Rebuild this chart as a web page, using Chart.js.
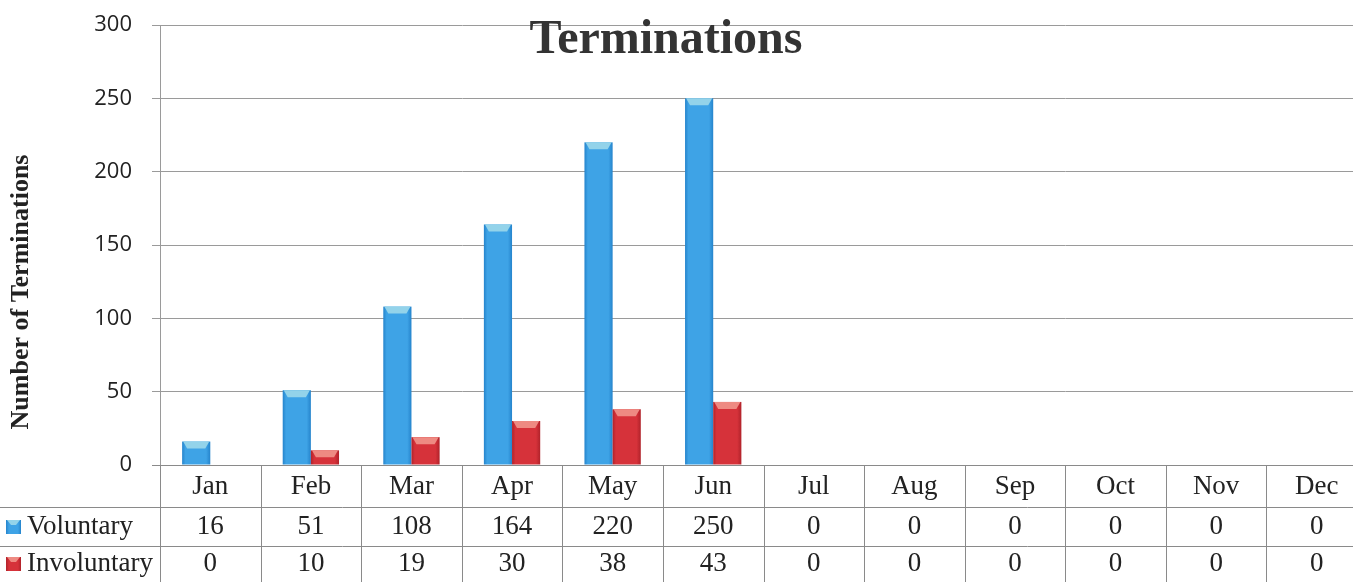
<!DOCTYPE html>
<html lang="en">
<head>
    <meta charset="UTF-8">
    <title>Terminations</title>
    <script src="https://cdn.jsdelivr.net/npm/chart.js"></script>
    <style>
        html, body { margin: 0; padding: 0; background: #fff; overflow: hidden; }
        .wrap { width: 1370px; height: 582px; }
    </style>
</head>
<body>
    <div class="wrap">
        <canvas id="termChart" width="1370" height="582"></canvas>
    </div>

    <script>
        // Dados
        const months = ['Jan', 'Feb', 'Mar', 'Apr', 'May', 'Jun', 'Jul', 'Aug', 'Sep', 'Oct', 'Nov', 'Dec'];
        const voluntary = [16, 51, 108, 164, 220, 250, 0, 0, 0, 0, 0, 0];
        const involuntary = [0, 10, 19, 30, 38, 43, 0, 0, 0, 0, 0, 0];
        const yTicks = [0, 50, 100, 150, 200, 250, 300];

        const serif = '"Liberation Serif", "DejaVu Serif", serif';
        const sans = '"Open Sans", "DejaVu Sans", sans-serif';
        const lineGrey = '#9a9a9a';

        const seriesStyle = [
            { name: 'Voluntary', dark: '#2584cc', mid: '#3ea3e6', cap: '#93d3ea' },
            { name: 'Involuntary', dark: '#b0222a', mid: '#d6323a', cap: '#ee8a82' }
        ];

        // barras com efeito 3D (gradiente + tampa clara)
        const barShading = {
            id: 'barShading',
            afterDatasetsDraw(chart) {
                const ctx = chart.ctx;
                chart.data.datasets.forEach((ds, di) => {
                    const st = seriesStyle[di];
                    chart.getDatasetMeta(di).data.forEach((bar, i) => {
                        if (!ds.data[i]) return;
                        const { x, y, base, width } = bar.getProps(['x', 'y', 'base', 'width'], true);
                        const l = x - width / 2, r = x + width / 2;
                        const g = ctx.createLinearGradient(l, 0, r, 0);
                        g.addColorStop(0, st.dark);
                        g.addColorStop(0.12, st.mid);
                        g.addColorStop(0.85, st.mid);
                        g.addColorStop(1, st.dark);
                        ctx.save();
                        ctx.fillStyle = g;
                        ctx.fillRect(l, y, width, base - y);
                        const h = Math.min(7, base - y);
                        ctx.fillStyle = st.cap;
                        ctx.beginPath();
                        ctx.moveTo(l + 1, y);
                        ctx.lineTo(r - 1, y);
                        ctx.lineTo(r - 5, y + h);
                        ctx.lineTo(l + 5, y + h);
                        ctx.closePath();
                        ctx.fill();
                        ctx.restore();
                    });
                });
            }
        };

        // título, título do eixo y e tabela de dados
        const extras = {
            id: 'extras',
            afterDraw(chart) {
                const ctx = chart.ctx;
                const xs = chart.scales.x;
                const area = chart.chartArea;
                const bottom = chart.height;
                const colW = (area.right - area.left) / months.length;
                const rowTop = [area.bottom, 507, 546];
                const rowMid = [487, 527, 564];

                ctx.save();
                // título
                ctx.fillStyle = '#333';
                ctx.font = 'bold 48px ' + serif;
                ctx.textAlign = 'center';
                ctx.textBaseline = 'alphabetic';
                ctx.fillText('Terminations', 666, 53);

                // eixo y
                ctx.save();
                ctx.translate(21, 292);
                ctx.rotate(-Math.PI / 2);
                ctx.font = 'bold 26px ' + serif;
                ctx.fillStyle = '#222';
                ctx.textBaseline = 'middle';
                ctx.fillText('Number of Terminations', 0, 0);
                ctx.restore();

                // linhas da tabela
                ctx.strokeStyle = '#8a8a8a';
                ctx.lineWidth = 1;
                ctx.beginPath();
                ctx.moveTo(area.left - 8, rowTop[0] + 0.5);
                ctx.lineTo(chart.width, rowTop[0] + 0.5);
                for (let k = 1; k < rowTop.length; k++) {
                    ctx.moveTo(0, rowTop[k] + 0.5);
                    ctx.lineTo(chart.width, rowTop[k] + 0.5);
                }
                for (let i = 0; i <= months.length; i++) {
                    const vx = Math.round(xs.getPixelForValue(i) - colW / 2) + 0.5;
                    ctx.moveTo(vx, rowTop[0]);
                    ctx.lineTo(vx, bottom);
                }
                ctx.stroke();

                // textos da tabela
                ctx.fillStyle = '#222';
                ctx.font = '27px ' + serif;
                ctx.textAlign = 'center';
                ctx.textBaseline = 'middle';
                months.forEach((m, i) => {
                    const cx = xs.getPixelForValue(i);
                    ctx.fillText(m, cx, rowMid[0]);
                    ctx.fillText(String(voluntary[i]), cx, rowMid[1]);
                    ctx.fillText(String(involuntary[i]), cx, rowMid[2]);
                });

                // legenda na tabela
                ctx.textAlign = 'left';
                seriesStyle.forEach((st, k) => {
                    const sy = rowMid[k + 1] - 7;
                    const g = ctx.createLinearGradient(6, 0, 21, 0);
                    g.addColorStop(0, st.dark);
                    g.addColorStop(0.2, st.mid);
                    g.addColorStop(0.8, st.mid);
                    g.addColorStop(1, st.dark);
                    ctx.fillStyle = g;
                    ctx.fillRect(6, sy, 15, 14);
                    ctx.fillStyle = st.cap;
                    ctx.beginPath();
                    ctx.moveTo(7, sy);
                    ctx.lineTo(20, sy);
                    ctx.lineTo(16, sy + 5);
                    ctx.lineTo(11, sy + 5);
                    ctx.closePath();
                    ctx.fill();
                    ctx.fillStyle = '#222';
                    ctx.fillText(st.name, 27, rowMid[k + 1]);
                });
                ctx.restore();
            }
        };

        const termChart = new Chart(document.getElementById('termChart'), {
            type: 'bar',
            data: {
                labels: months,
                datasets: [
                    { label: 'Voluntary', data: voluntary, backgroundColor: 'rgba(0,0,0,0)' },
                    { label: 'Involuntary', data: involuntary, backgroundColor: 'rgba(0,0,0,0)' }
                ]
            },
            options: {
                responsive: false,
                animation: false,
                layout: { padding: { top: 25, right: 3, left: 0, bottom: 0 } },
                categoryPercentage: 0.56,
                barPercentage: 1,
                plugins: {
                    legend: { display: false },
                    title: { display: false },
                    tooltip: { enabled: false }
                },
                scales: {
                    x: {
                        grid: { display: false },
                        border: { display: false },
                        ticks: { display: false },
                        afterFit: s => { s.height = 117; s.paddingLeft = 0; s.paddingRight = 0; }
                    },
                    y: {
                        min: 0,
                        max: 300,
                        afterBuildTicks: s => { s.ticks = yTicks.map(v => ({ value: v })); },
                        afterFit: s => { s.width = 160; s.paddingTop = 0; s.paddingBottom = 0; },
                        grid: { color: lineGrey, tickLength: 8 },
                        border: { color: lineGrey },
                        ticks: {
                            padding: 20,
                            color: '#222',
                            font: { family: sans, size: 22 }
                        }
                    }
                }
            },
            plugins: [barShading, extras]
        });
    </script>
</body>
</html>
